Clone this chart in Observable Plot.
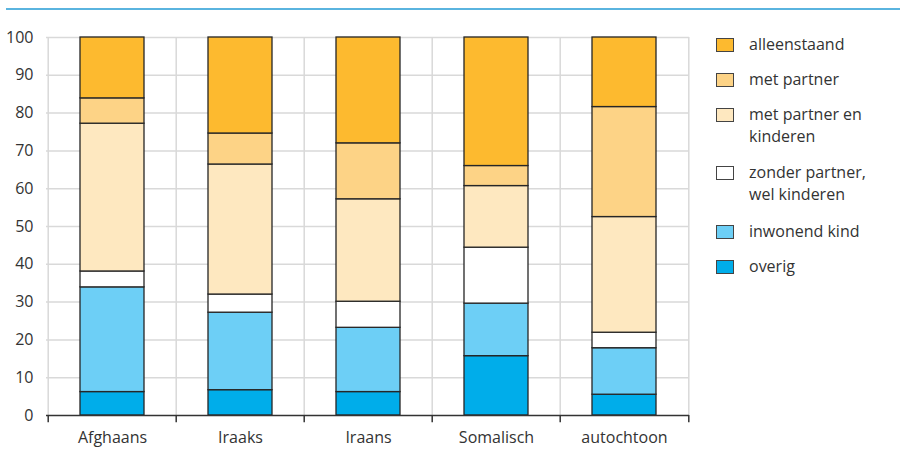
<!DOCTYPE html>
<html><head><meta charset="utf-8">
<script src="https://cdn.jsdelivr.net/npm/d3@7"></script>
<script src="https://cdn.jsdelivr.net/npm/@observablehq/plot@0.6"></script>
<style>
body{margin:0;background:#fff;font-family:"Open Sans",sans-serif;color:#333;}
#wrap{position:relative;width:907px;height:467px;overflow:hidden;}
#topline{position:absolute;left:6px;top:8px;width:894px;height:2px;background:#5ab4df;}
#chart{position:absolute;left:0;top:0;}
.li{position:absolute;left:716px;font-size:16px;line-height:22px;color:#333;}
.li .sw{position:absolute;left:0;top:4px;width:16px;height:12px;border:1px solid #444;}
.li .tx{position:absolute;left:33px;top:-1px;white-space:nowrap;}
</style>
</head><body>
<div id="wrap"><div id="topline"></div><div id="chart"></div><div id="legend"></div></div>
<script>
const categories = ["Afghaans","Iraaks","Iraans","Somalisch","autochtoon"];
const series = ["overig","inwonend kind","zonder partner, wel kinderen","met partner en kinderen","met partner","alleenstaand"];
const overig      = [6.2, 6.7, 6.2, 15.7, 5.5];
const inwonend    = [27.7, 20.5, 17.0, 13.9, 12.3];
const zonder      = [4.2, 4.8, 6.9, 14.8, 4.1];
const metPartnerKinderen = [39.1, 34.4, 27.1, 16.3, 30.6];
const metPartner  = [6.7, 8.2, 14.8, 5.3, 29.1];
const alleenstaand= [16.1, 25.4, 28.0, 34.0, 18.4];
const colors = ["#00adea","#6dcff6","#ffffff","#fee8c0","#fdd386","#fdba2f"];
const yTicks = [0,10,20,30,40,50,60,70,80,90,100];
const legendItems = [["alleenstaand","#fdba2f",34],["met partner","#fdd386",69],["met partner en<br>kinderen","#fee8c0",104],["zonder partner,<br>wel kinderen","#ffffff",162],["inwonend kind","#6dcff6",221],["overig","#00adea",256]];

const seriesValues = [overig, inwonend, zonder, metPartnerKinderen, metPartner, alleenstaand];
const data = [];
series.forEach((s, si) => categories.forEach((c, ci) => data.push({cat: c, serie: s, value: seriesValues[si][ci]})));

const W = 907, mL = 46, mR = 218;
const step = (W - mL - mR) / categories.length;

const plot = Plot.plot({
  width: W, height: 467,
  marginLeft: mL, marginRight: mR, marginTop: 37, marginBottom: 52,
  style: {fontFamily: "'Open Sans', sans-serif", fontSize: "16px", color: "#333", background: "transparent"},
  x: {domain: categories, paddingInner: 0.5, paddingOuter: 0.25, label: null, tickSize: 0, tickPadding: 16},
  y: {domain: [0, 100], ticks: yTicks, label: null, tickSize: 0, tickPadding: 13},
  color: {domain: series, range: colors},
  marks: [
    Plot.ruleY(yTicks.slice(1), {stroke: "#d9d9d9", strokeWidth: 1.5}),
    Plot.ruleX(categories, {x: d => d, dx: -step / 2, y1: 0, y2: 100, stroke: "#d9d9d9", strokeWidth: 1.5}),
    Plot.ruleX(categories.slice(-1), {x: d => d, dx: step / 2, y1: 0, y2: 100, stroke: "#d9d9d9", strokeWidth: 1.5}),
    Plot.barY(data, {x: "cat", y: "value", fill: "serie", stroke: "#262626", strokeWidth: 1.3}),
    Plot.ruleY([0], {stroke: "#333", strokeWidth: 1.5}),
    Plot.ruleX(categories, {x: d => d, dx: -step / 2, y1: 0, y2: -1.9, stroke: "#333", strokeWidth: 1.5}),
    Plot.ruleX(categories.slice(-1), {x: d => d, dx: step / 2, y1: 0, y2: -1.9, stroke: "#333", strokeWidth: 1.5})
  ]
});
document.getElementById("chart").appendChild(plot);

const leg = document.getElementById("legend");
legendItems.forEach(([label, col, top]) => {
  const d = document.createElement("div");
  d.className = "li";
  d.style.top = top + "px";
  d.innerHTML = `<div class="sw" style="background:${col}"></div><div class="tx">${label}</div>`;
  leg.appendChild(d);
});
</script>
</body></html>
